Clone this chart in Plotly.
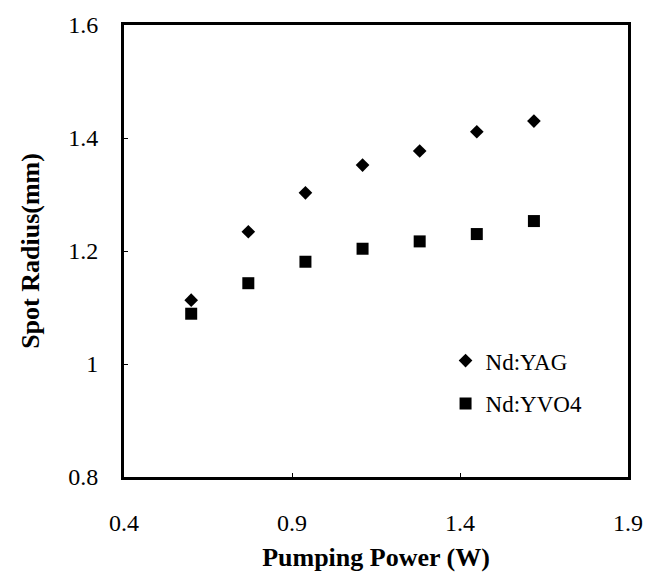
import plotly.graph_objects as go

power = [0.60, 0.77, 0.94, 1.11, 1.28, 1.45, 1.62]
yag = [1.113, 1.234, 1.303, 1.352, 1.377, 1.411, 1.430]
yvo4 = [1.089, 1.143, 1.181, 1.204, 1.217, 1.230, 1.253]

x_ticks = [0.4, 0.9, 1.4, 1.9]
y_ticks = [0.8, 1.0, 1.2, 1.4, 1.6]
y_ticklabels = ["0.8", "1", "1.2", "1.4", "1.6"]

FONT = "Liberation Serif"

fig = go.Figure()
fig.add_trace(go.Scatter(x=power, y=yag, mode="markers", name="Nd:YAG",
                         legendgroup="a",
                         marker=dict(symbol="diamond", size=10.5, color="black")))
fig.add_trace(go.Scatter(x=power, y=yvo4, mode="markers", name="Nd:YVO4",
                         legendgroup="b",
                         marker=dict(symbol="square", size=12, color="black")))

fig.update_layout(
    width=655, height=586,
    margin=dict(l=124, r=20, t=14, b=109),
    paper_bgcolor="white", plot_bgcolor="white",
    font=dict(family=FONT, color="black", size=24),
    legend=dict(x=0.638, y=0.305, xanchor="left", yanchor="top",
                font=dict(family=FONT, size=23, color="black"),
                bgcolor="rgba(0,0,0,0)", tracegroupgap=10),
    showlegend=True,
)
fig.update_xaxes(range=[0.4, 1.9], tickvals=x_ticks, ticktext=[str(v) for v in x_ticks],
                 showgrid=False, zeroline=False, showline=True, linecolor="black",
                 linewidth=3, mirror=True, ticks="inside", ticklen=4, tickwidth=1,
                 tickcolor="black", ticklabelstandoff=22,
                 tickfont=dict(family=FONT, size=24),
                 title=dict(text="<b>Pumping Power (W)</b>", standoff=14,
                            font=dict(family=FONT, size=26)))
fig.update_yaxes(range=[0.8, 1.6], tickvals=y_ticks, ticktext=y_ticklabels,
                 showgrid=False, zeroline=False, showline=True, linecolor="black",
                 linewidth=3, mirror=True, ticks="inside", ticklen=4, tickwidth=1,
                 tickcolor="black", ticklabelstandoff=18,
                 tickfont=dict(family=FONT, size=24),
                 title=dict(text="<b>Spot Radius(mm)</b>", standoff=22,
                            font=dict(family=FONT, size=26)))

fig.write_html("out.html")
